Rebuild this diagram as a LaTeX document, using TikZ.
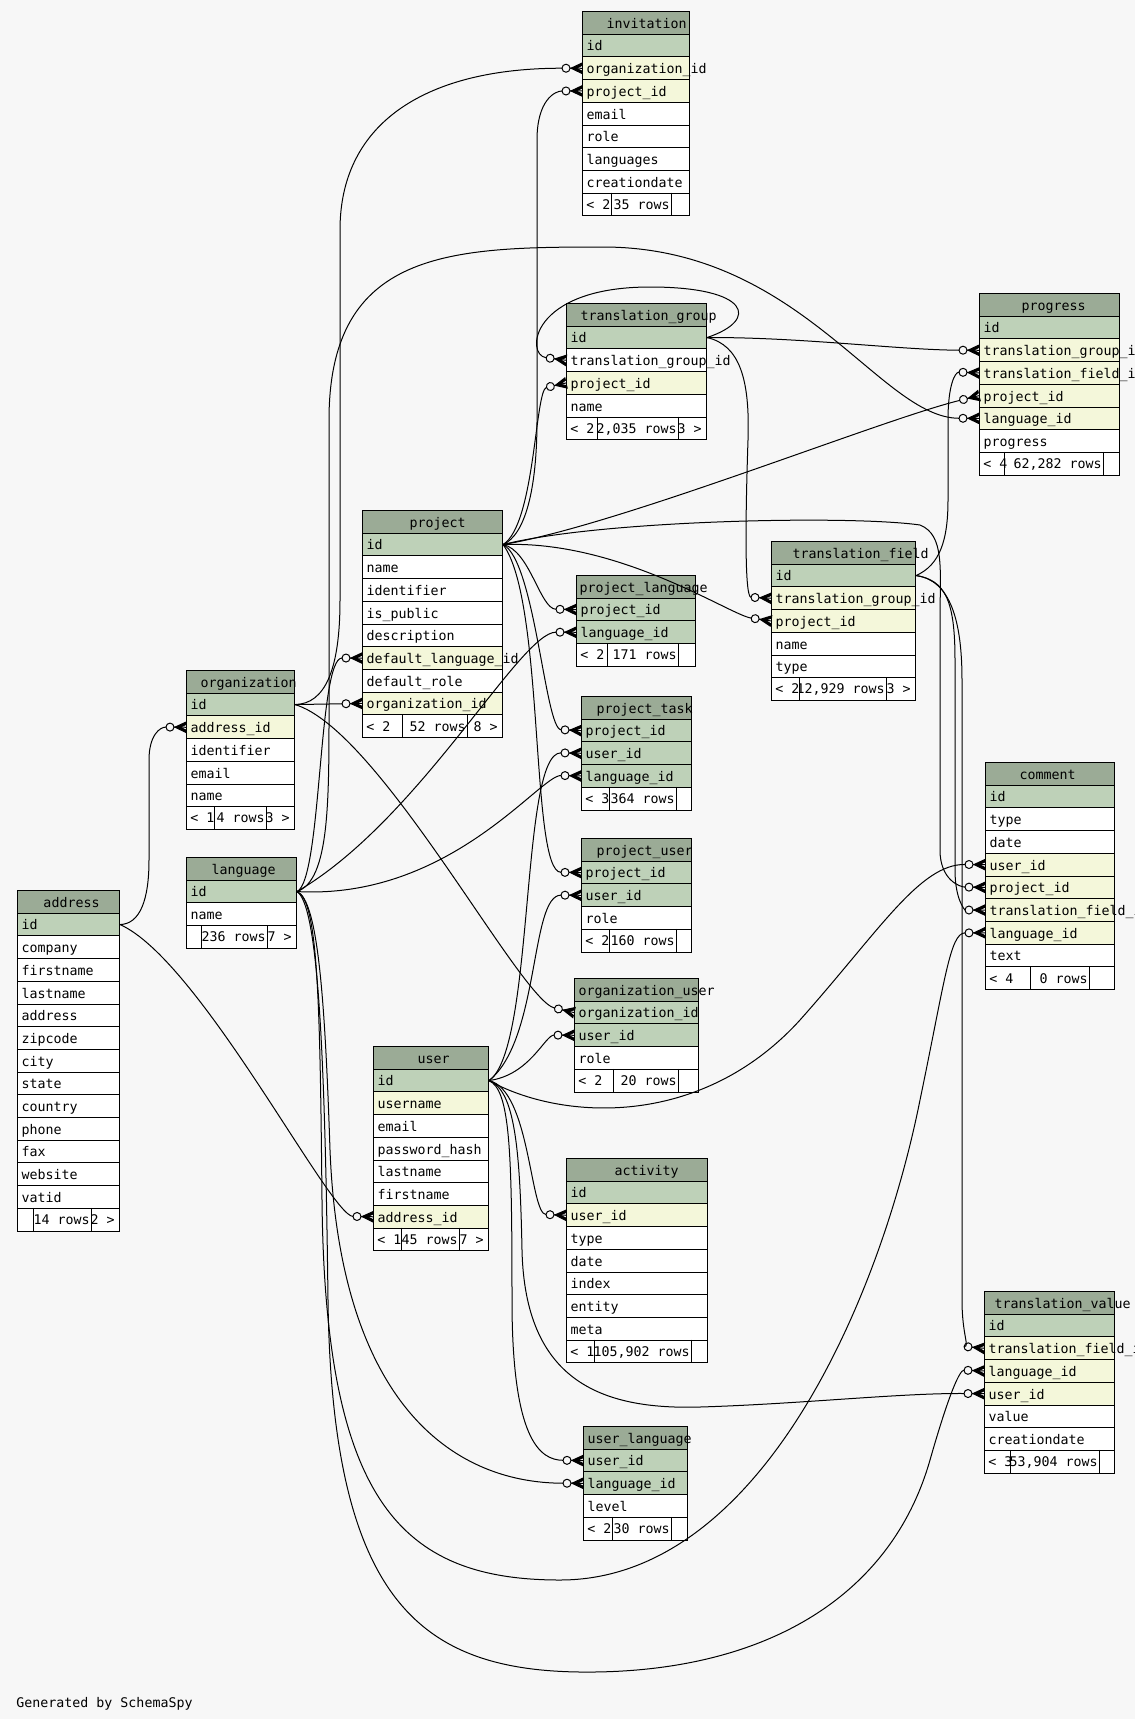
\documentclass[tikz,border=0pt]{standalone}
\usepackage{fontspec}
\setmonofont{DejaVu Sans Mono}
\usetikzlibrary{arrows.meta}

\definecolor{dbbg}{HTML}{F7F7F7}
\definecolor{dbhead}{HTML}{9BAB96}
\definecolor{dbpk}{HTML}{BED1B8}
\definecolor{dbfk}{HTML}{F4F7DA}
\definecolor{dbpl}{HTML}{FFFFFF}

\newcommand\dbfont{\ttfamily\fontsize{6.65pt}{8pt}\selectfont}
\newdimen\dbpx \dbpx=0.5pt
\def\rowh{22.7}

% crow's foot with a small open circle (zero or many)
\pgfdeclarearrow{
  name = crowodot,
  setup code = {
    \pgfarrowssettipend{0pt}
    \pgfarrowssetlineend{-10pt}
    \pgfarrowssetbackend{-10pt}
    \pgfarrowshullpoint{0pt}{2.6pt}
    \pgfarrowshullpoint{0pt}{-2.6pt}
    \pgfarrowshullpoint{-10pt}{2pt}
    \pgfarrowshullpoint{-10pt}{-2pt}
  },
  drawing code = {
    \pgfsetdash{}{0pt}
    \pgfpathmoveto{\pgfqpoint{0pt}{2.6pt}}
    \pgfpathlineto{\pgfqpoint{-5.5pt}{0pt}}
    \pgfpathlineto{\pgfqpoint{0pt}{-2.6pt}}
    \pgfpathlineto{\pgfqpoint{0pt}{-1.4pt}}
    \pgfpathlineto{\pgfqpoint{-3pt}{0pt}}
    \pgfpathlineto{\pgfqpoint{0pt}{1.4pt}}
    \pgfpathclose
    \pgfusepathqfillstroke
    \pgfpathmoveto{\pgfqpoint{0pt}{0pt}}
    \pgfpathlineto{\pgfqpoint{-6pt}{0pt}}
    \pgfusepathqstroke
    \pgfpathcircle{\pgfqpoint{-8pt}{0pt}}{2pt}
    \pgfusepathqstroke
  }
}

\tikzset{
  dbcell/.style={draw, line width=0.5pt, inner sep=0pt, anchor=north west,
    text height=8.35pt, text depth=3pt, font=\dbfont},
  dbtext/.style={inner sep=0pt, font=\dbfont},
  rel/.style={line width=0.5pt, -{crowodot}},
}

% #1 name, #2 x, #3 y, #4 width, #5 header text offset, #6 columns
\newcommand\dbtable[6]{%
  \node[dbcell, fill=dbhead] (#1) at (#2,#3) {\hbox to #4\dbpx{\hskip #5\dbpx\detokenize{#1}\hss}};
  \foreach \cname/\ckind [count=\i] in {#6} {
    \node[dbcell, fill=db\ckind] (#1-\cname) at (#2,{#3+\i*\rowh})
      {\hbox to #4\dbpx{\hskip4\dbpx\expandafter\detokenize\expandafter{\cname}\hss}};
    \xdef\dbn{\i}
  }
  \xdef\dbx{#2}\xdef\dby{#3}\xdef\dbw{#4}%
}
% #1 name, #2 first split, #3 second split, #4 parents, #5 rows, #6 children
\newcommand\dbfoot[6]{%
  \pgfmathsetmacro\fy{\dby+(\dbn+1)*\rowh}
  \node[dbcell, fill=white] (#1-foot) at (\dbx,\fy) {\hbox to \dbw\dbpx{\hss}};
  \draw[line width=0.5pt] (#2,\fy) -- (#2,{\fy+\rowh}) (#3,\fy) -- (#3,{\fy+\rowh});
  \node[dbtext, anchor=base west] (#1-left) at ({\dbx+4},{\fy+\rowh-6}) {#4};
  \begin{scope}
    \clip (#2,\fy) rectangle (#3,{\fy+\rowh});
    \node[dbtext, anchor=base east] (#1-rows) at ({#3-1},{\fy+\rowh-6}) {#5};
  \end{scope}
  \node[dbtext, anchor=base east] (#1-right) at ({\dbx+\dbw-4},{\fy+\rowh-6}) {#6};
}

\begin{document}
\begin{tikzpicture}[x=0.5pt, y=-0.5pt]
\fill[dbbg] (0,0) rectangle (1135,1719);
\useasboundingbox (0,0) rectangle (1135,1719);

%%% tables
\dbtable{invitation}{582}{11}{107}{24}{id/pk, organization_id/fk, project_id/fk, email/pl, role/pl, languages/pl, creationdate/pl}
\dbfoot{invitation}{611}{671}{< 2}{35 rows}{}

\dbtable{translation_group}{566}{303}{140}{14}{id/pk, translation_group_id/pl, project_id/fk, name/pl}
\dbfoot{translation_group}{597}{678}{< 2}{2,035 rows}{3 >}

\dbtable{progress}{979}{293}{140}{42}{id/pk, translation_group_id/fk, translation_field_id/fk, project_id/fk, language_id/fk, progress/pl}
\dbfoot{progress}{1004}{1103}{< 4}{62,282 rows}{}

\dbtable{project}{362}{510}{140}{47}{id/pk, name/pl, identifier/pl, is_public/pl, description/pl, default_language_id/fk, default_role/pl, organization_id/fk}
\dbfoot{project}{402}{467}{< 2}{52 rows}{8 >}

\dbtable{project_language}{576}{575}{119}{3}{project_id/pk, language_id/pk}
\dbfoot{project_language}{607}{678}{< 2}{171 rows}{}

\dbtable{translation_field}{771}{541}{144}{21}{id/pk, translation_group_id/fk, project_id/fk, name/pl, type/pl}
\dbfoot{translation_field}{799}{886}{< 2}{12,929 rows}{3 >}

\dbtable{organization}{186}{670}{108}{14}{id/pk, address_id/fk, identifier/pl, email/pl, name/pl}
\dbfoot{organization}{214}{266}{< 1}{4 rows}{3 >}

\dbtable{language}{186}{857}{110}{25}{id/pk, name/pl}
\dbfoot{language}{201}{267}{}{236 rows}{7 >}

\dbtable{address}{17}{890}{102}{26}{id/pk, company/pl, firstname/pl, lastname/pl, address/pl, zipcode/pl, city/pl, state/pl, country/pl, phone/pl, fax/pl, website/pl, vatid/pl}
\dbfoot{address}{33}{91}{}{14 rows}{2 >}

\dbtable{user}{373}{1046}{115}{44}{id/pk, username/fk, email/pl, password_hash/pl, lastname/pl, firstname/pl, address_id/fk}
\dbfoot{user}{401}{459}{< 1}{45 rows}{7 >}

\dbtable{project_task}{581}{696}{110}{15}{project_id/pk, user_id/pk, language_id/pk}
\dbfoot{project_task}{609}{676}{< 3}{364 rows}{}

\dbtable{project_user}{581}{838}{110}{15}{project_id/pk, user_id/pk, role/pl}
\dbfoot{project_user}{609}{676}{< 2}{160 rows}{}

\dbtable{organization_user}{574}{978}{124}{4}{organization_id/pk, user_id/pk, role/pl}
\dbfoot{organization_user}{613}{678}{< 2}{20 rows}{}

\dbtable{activity}{566}{1158}{141}{48}{id/pk, user_id/fk, type/pl, date/pl, index/pl, entity/pl, meta/pl}
\dbfoot{activity}{594}{691}{< 1}{105,902 rows}{}

\dbtable{user_language}{583}{1426}{104}{4}{user_id/pk, language_id/pk, level/pl}
\dbfoot{user_language}{612}{671}{< 2}{30 rows}{}

\dbtable{comment}{985}{762}{129}{34}{id/pk, type/pl, date/pl, user_id/fk, project_id/fk, translation_field_id/fk, language_id/fk, text/pl}
\dbfoot{comment}{1030}{1089}{< 4}{0 rows}{}

\dbtable{translation_value}{984}{1291}{130}{10}{id/pk, translation_field_id/fk, language_id/fk, user_id/fk, value/pl, creationdate/pl}
\dbfoot{translation_value}{1010}{1099}{< 3}{53,904 rows}{}

%%% relations
% organization
\draw[rel] (organization-id.east) .. controls (325,704) and (340,670) .. (340,600) -- (340,230) .. controls (340,120) and (430,68) .. (invitation-organization_id.west);
\draw[rel] (organization-id.east) -- (project-organization_id.west);
\draw[rel] (organization-id.east) .. controls (380,730) and (520,1000) .. (organization_user-organization_id.west);

% project
\draw[rel] (project-id.east) .. controls (525,535) and (537,490) .. (537,420) -- (537,140) .. controls (537,100) and (555,91) .. (invitation-project_id.west);
\draw[rel] (project-id.east) .. controls (535,525) and (535,390) .. (translation_group-project_id.west);
\draw[rel] (project-id.east) .. controls (620,525) and (880,420) .. (progress-project_id.west);
\draw[rel] (project-id.east) .. controls (620,540) and (730,615) .. (translation_field-project_id.west);
\draw[rel] (project-id.east) .. controls (530,550) and (540,609) .. (project_language-project_id.west);
\draw[rel] (project-id.east) .. controls (535,560) and (545,729) .. (project_task-project_id.west);
\draw[rel] (project-id.east) .. controls (545,600) and (530,872) .. (project_user-project_id.west);
\draw[rel] (project-id.east) .. controls (600,520) and (850,515) .. (920,525) .. controls (945,535) and (940,570) .. (940,620) -- (940,850) .. controls (940,880) and (960,887) .. (comment-project_id.west);

% translation_group
\draw[rel] (translation_group-id.east) .. controls (760,320) and (750,287) .. (650,287) .. controls (530,287) and (525,355) .. (translation_group-translation_group_id.west);
\draw[rel] (translation_group-id.east) .. controls (800,337) and (900,350) .. (progress-translation_group_id.west);
\draw[rel] (translation_group-id.east) .. controls (740,345) and (750,380) .. (748,440) .. controls (745,530) and (745,597) .. (translation_field-translation_group_id.west);

% translation_field
\draw[rel] (translation_field-id.east) .. controls (940,565) and (948,540) .. (948,500) -- (948,420) .. controls (948,385) and (955,372) .. (progress-translation_field_id.west);
\draw[rel] (translation_field-id.east) .. controls (945,580) and (955,600) .. (955,660) -- (955,870) .. controls (955,900) and (965,910) .. (comment-translation_field_id.west);
\draw[rel] (translation_field-id.east) .. controls (950,580) and (962,620) .. (962,680) -- (962,1300) .. controls (962,1335) and (970,1347) .. (translation_value-translation_field_id.west);

% language
\draw[rel] (language-id.east) .. controls (330,880) and (329,800) .. (329,700) -- (329,420) .. controls (329,250) and (450,247) .. (603,247) .. controls (800,247) and (880,418) .. (progress-language_id.west);
\draw[rel] (language-id.east) .. controls (322,880) and (318,658) .. (project-default_language_id.west);
\draw[rel] (language-id.east) .. controls (420,820) and (520,632) .. (project_language-language_id.west);
\draw[rel] (language-id.east) .. controls (450,900) and (540,775) .. (project_task-language_id.west);
\draw[rel] (language-id.east) .. controls (318,900) and (325,1000) .. (330,1150) .. controls (340,1400) and (450,1483) .. (user_language-language_id.west);
\draw[rel] (language-id.east) .. controls (318,900) and (320,1000) .. (322,1200) .. controls (325,1500) and (400,1580) .. (560,1580) .. controls (760,1580) and (880,1300) .. (920,1100) .. controls (945,980) and (950,933) .. (comment-language_id.west);
\draw[rel] (language-id.east) .. controls (318,905) and (325,1050) .. (328,1300) .. controls (332,1600) and (420,1670) .. (580,1672) .. controls (760,1674) and (890,1600) .. (930,1460) .. controls (950,1390) and (960,1370) .. (translation_value-language_id.west);

% address
\draw[rel] (address-id.east) .. controls (140,924) and (149,900) .. (149,860) -- (149,760) .. controls (149,735) and (160,727) .. (organization-address_id.west);
\draw[rel] (address-id.east) .. controls (200,960) and (330,1216) .. (user-address_id.west);

% user
\draw[rel] (user-id.east) .. controls (535,1050) and (520,752) .. (project_task-user_id.west);
\draw[rel] (user-id.east) .. controls (540,1040) and (530,895) .. (project_user-user_id.west);
\draw[rel] (user-id.east) .. controls (530,1075) and (545,1035) .. (organization_user-user_id.west);
\draw[rel] (user-id.east) .. controls (560,1120) and (700,1130) .. (800,1020) .. controls (880,930) and (920,864) .. (comment-user_id.west);
\draw[rel] (user-id.east) .. controls (530,1090) and (530,1214) .. (activity-user_id.west);
\draw[rel] (user-id.east) .. controls (515,1090) and (520,1150) .. (522,1250) .. controls (525,1380) and (600,1410) .. (700,1407) .. controls (800,1404) and (900,1393) .. (translation_value-user_id.west);
\draw[rel] (user-id.east) .. controls (510,1090) and (512,1150) .. (512,1300) .. controls (512,1440) and (540,1460) .. (user_language-user_id.west);

\node[dbtext, anchor=base west] (credit) at (16,1707) {Generated by SchemaSpy};
\end{tikzpicture}
\end{document}
